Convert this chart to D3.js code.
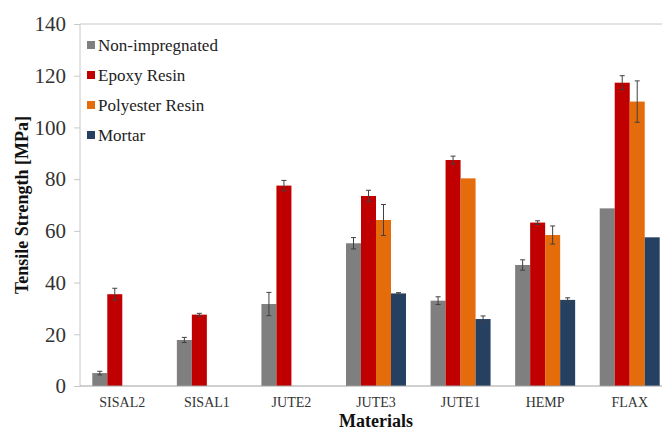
<!DOCTYPE html>
<html><head><meta charset="utf-8">
<script src="https://cdn.jsdelivr.net/npm/d3@7"></script>
<style>body{margin:0;background:#fff}svg{display:block}
text{font-family:"Liberation Serif","Times New Roman",Times,Tinos,serif}</style>
</head><body>
<svg id="c" width="662" height="430"></svg>
<script>
const categories = ["SISAL2","SISAL1","JUTE2","JUTE3","JUTE1","HEMP","FLAX"];
const seriesNames = ["Non-impregnated","Epoxy Resin","Polyester Resin","Mortar"];
const seriesColors = ["#7f7f7f","#c00000","#e46c0a","#254061"];
const nonImpregnated = [5.0, 17.8, 31.7, 55.2, 33.0, 46.8, 68.7];
const nonImpregnatedErr = [0.7, 1.0, 4.5, 2.2, 1.5, 2.0, 0];
const epoxyResin = [35.5, 27.6, 77.5, 73.5, 87.4, 63.2, 117.3];
const epoxyResinErr = [2.3, 0.5, 2.0, 2.2, 1.5, 0.7, 2.7];
const polyesterResin = [null, null, null, 64.2, 80.3, 58.4, 110.0];
const polyesterResinErr = [0, 0, 0, 6.0, 0, 3.5, 8.0];
const mortar = [null, null, null, 35.8, 25.9, 33.3, 57.5];
const mortarErr = [0, 0, 0, 0.3, 1.2, 0.8, 0];
const yTicks = [0,20,40,60,80,100,120,140];

const values = [nonImpregnated, epoxyResin, polyesterResin, mortar];
const errs = [nonImpregnatedErr, epoxyResinErr, polyesterResinErr, mortarErr];

const svg = d3.select("#c");
const L = 80, R = 672, T = 24, B = 386;
const x = d3.scaleBand().domain(categories).range([L, R]).paddingInner(0).paddingOuter(0);
const y = d3.scaleLinear().domain([0,140]).range([B, T]);
const barW = 15;
const xs = d3.scaleBand().domain(d3.range(4)).range([0, barW*4]);

svg.append("line").attr("x1",L).attr("x2",662).attr("y1",y(140)).attr("y2",y(140))
  .attr("stroke","#c8c8c8").attr("stroke-width",1);

values.forEach((vals, si) => {
  const g = svg.append("g");
  categories.forEach((c, ci) => {
    const v = vals[ci];
    if (v == null) return;
    const bx = x(c) + x.bandwidth()/2 - barW*2 + xs(si);
    g.append("rect").attr("x", bx).attr("y", y(v)).attr("width", barW)
      .attr("height", y(0) - y(v)).attr("fill", seriesColors[si]);
    const e = errs[si][ci];
    if (e > 0) {
      const cx = bx + barW/2;
      g.append("line").attr("x1",cx).attr("x2",cx).attr("y1",y(v+e)).attr("y2",y(v-e))
        .attr("stroke","#404040").attr("stroke-width",1);
      [v+e, v-e].forEach(t => g.append("line").attr("x1",cx-2.5).attr("x2",cx+2.5)
        .attr("y1",y(t)).attr("y2",y(t)).attr("stroke","#404040").attr("stroke-width",1));
    }
  });
});

const ya = svg.append("g").attr("transform",`translate(${L},0)`)
  .call(d3.axisLeft(y).tickValues(yTicks).tickSize(6).tickPadding(8).tickFormat(d3.format("d")));
ya.attr("font-family",null);
ya.select(".domain").attr("stroke","#c8c8c8").attr("d",`M0,${T}V${B}`);
ya.selectAll(".tick line").attr("stroke","#c8c8c8");
ya.selectAll("text").attr("font-size",21).attr("fill","#333");

const xa = svg.append("g").attr("transform",`translate(0,${B})`)
  .call(d3.axisBottom(x).tickSize(0).tickPadding(11));
xa.attr("font-family",null);
xa.select(".domain").attr("stroke","#a0a0a0").attr("d",`M${L},0H662`);
xa.selectAll("text").attr("font-size",14).attr("fill","#333");

svg.append("text").attr("transform",`translate(28,${(T+B)/2}) rotate(-90)`)
  .attr("text-anchor","middle")
  .attr("font-weight","bold").attr("font-size",18).attr("fill","#111").text("Tensile Strength [MPa]");
svg.append("text").attr("x",(L+R)/2).attr("y",427).attr("text-anchor","middle")
  .attr("font-weight","bold")
  .attr("font-size",18).attr("fill","#111").text("Materials");

const lg = svg.append("g");
seriesNames.forEach((n, i) => {
  const ly = 45 + i*30;
  lg.append("rect").attr("x",87).attr("y",ly-4).attr("width",8).attr("height",8).attr("fill",seriesColors[i]);
  lg.append("text").attr("x",98).attr("y",ly+6)
    .attr("font-size",17).attr("fill","#222").text(n);
});
</script>
</body></html>
